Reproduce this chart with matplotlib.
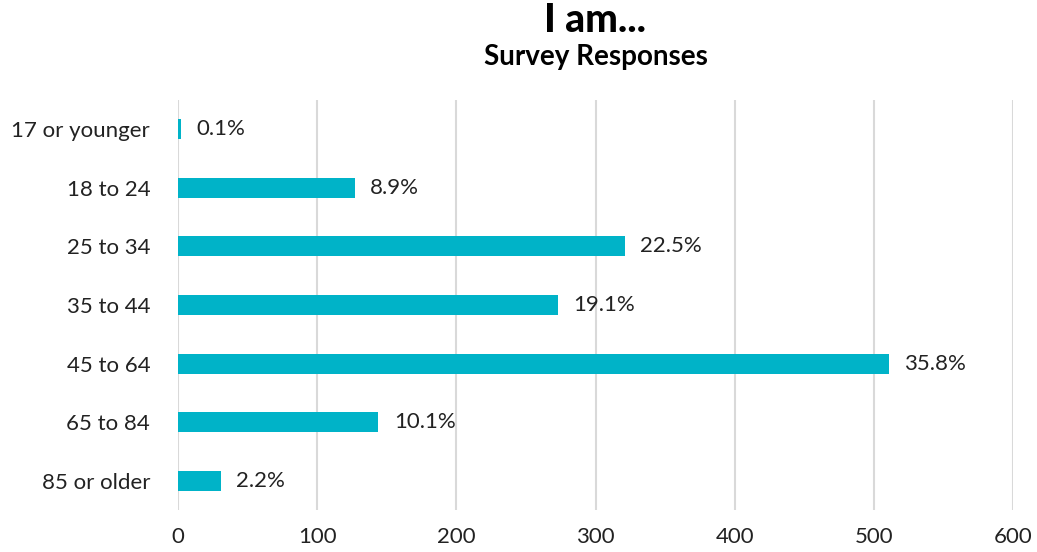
import matplotlib
matplotlib.use("Agg")
import matplotlib.pyplot as plt

categories = ["17 or younger", "18 to 24", "25 to 34", "35 to 44", "45 to 64", "65 to 84", "85 or older"]
responses = [2, 127, 321, 273, 511, 144, 31]
pct_labels = ["0.1%", "8.9%", "22.5%", "19.1%", "35.8%", "10.1%", "2.2%"]
x_ticks = [0, 100, 200, 300, 400, 500, 600]

plt.rcParams['font.family'] = ['Lato', 'DejaVu Sans']

fig = plt.figure(figsize=(10.37, 5.52), dpi=100)
ax = fig.add_axes([178/1037, 1-510/552, (1013-178)/1037, 410/552])

ypos = list(range(len(categories)))
ax.barh(ypos, responses, height=0.34, color="#00b3c8", zorder=3)
for y, v, lab in zip(ypos, responses, pct_labels):
    ax.text(v + 11, y, lab, va="center", ha="left", fontsize=16, color="#222222")

ax.set_xlim(0, 600)
ax.set_ylim(len(categories) - 0.5, -0.5)
ax.set_xticks(x_ticks)
ax.set_xticklabels([str(t) for t in x_ticks], fontsize=16, color="#222222")
ax.set_yticks(ypos)
ax.set_yticklabels(categories, fontsize=16, color="#222222")
ax.tick_params(axis="both", length=0)
ax.tick_params(axis="x", pad=12)
ax.tick_params(axis="y", pad=20)
ax.grid(axis="x", color="#d9d9d9", linewidth=1.5, zorder=0)
for s in ax.spines.values():
    s.set_visible(False)

cx = (178 + 1013) / 2 / 1037
fig.text(cx, 1-21/552, "I am...", ha="center", va="center", fontsize=28, fontweight="black", color="black")
fig.text(cx, 1-57/552, "Survey Responses", ha="center", va="center", fontsize=20, fontweight="bold", color="black")

fig.savefig("out.png", dpi=100)
